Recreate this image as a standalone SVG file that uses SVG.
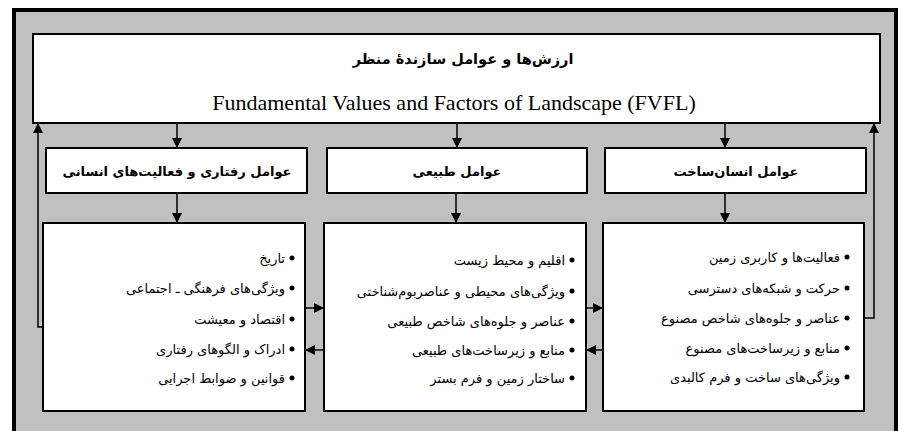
<svg xmlns="http://www.w3.org/2000/svg" width="902" height="431" viewBox="0 0 902 431">
<defs>
<style>
.box{fill:#ffffff;stroke:#000;stroke-width:2}
.ln{fill:none;stroke:#000;stroke-width:1.5}
.fa{font-family:"DejaVu Sans","Noto Sans",sans-serif;fill:#000}
.ttl{font-size:14.5px;font-weight:bold;text-anchor:middle}
.hd{font-size:13px;font-weight:bold;text-anchor:middle}
.it{font-size:13px;direction:rtl;text-anchor:start}
.en{font-family:"Liberation Serif","Times New Roman",serif;font-size:22px;text-anchor:middle;fill:#000}
.bul{fill:#000}
</style>
<marker id="ah" viewBox="0 0 10 10" refX="10" refY="5" markerWidth="10" markerHeight="10" markerUnits="userSpaceOnUse" orient="auto">
<path d="M0,0 L10,5 L0,10 z" fill="#000"/>
</marker>
</defs>
<rect x="0" y="0" width="902" height="431" fill="#ffffff"/>
<rect x="14" y="10" width="882" height="440" fill="#c0c0c0" stroke="#000" stroke-width="4"/>

<g id="connectors">
<line class="ln" x1="177" y1="124" x2="177" y2="148" marker-end="url(#ah)"/>
<line class="ln" x1="457" y1="124" x2="457" y2="148" marker-end="url(#ah)"/>
<line class="ln" x1="725" y1="124" x2="725" y2="148" marker-end="url(#ah)"/>
<line class="ln" x1="177" y1="193" x2="177" y2="223" marker-end="url(#ah)"/>
<line class="ln" x1="456" y1="193" x2="456" y2="223" marker-end="url(#ah)"/>
<line class="ln" x1="725" y1="193" x2="725" y2="223" marker-end="url(#ah)"/>
<line class="ln" x1="305" y1="308" x2="324" y2="308" marker-end="url(#ah)"/>
<line class="ln" x1="586" y1="308" x2="603" y2="308" marker-end="url(#ah)"/>
<line class="ln" x1="324" y1="350" x2="305" y2="350" marker-end="url(#ah)"/>
<line class="ln" x1="603" y1="350" x2="586" y2="350" marker-end="url(#ah)"/>
<polyline class="ln" points="43,327 38,327 38,123" marker-end="url(#ah)"/>
<polyline class="ln" points="864,318 874,318 874,123" marker-end="url(#ah)"/>
</g>

<g id="top">
<rect class="box" x="33" y="34" width="847" height="89"/>
<text class="fa ttl" x="463" y="64">ارزش&#x200C;ها و عوامل سازندهٔ منظر</text>
<text class="en" x="454" y="110">Fundamental Values and Factors of Landscape (FVFL)</text>
</g>

<g id="h-behavior">
<rect class="box" x="46" y="148" width="261" height="45"/>
<text class="fa hd" x="177" y="176">عوامل رفتاری و فعالیت&#x200C;های انسانی</text>
</g>
<g id="h-natural">
<rect class="box" x="327" y="148" width="260" height="45"/>
<text class="fa hd" x="457" y="176">عوامل طبیعی</text>
</g>
<g id="h-manmade">
<rect class="box" x="605" y="148" width="261" height="45"/>
<text class="fa hd" x="736" y="176">عوامل انسان&#x200C;ساخت</text>
</g>

<g id="l-behavior">
<rect class="box" x="43" y="223" width="262" height="188"/>
<circle class="bul" cx="292" cy="258" r="2.5"/>
<circle class="bul" cx="292" cy="288" r="2.5"/>
<circle class="bul" cx="292" cy="319" r="2.5"/>
<circle class="bul" cx="292" cy="349" r="2.5"/>
<circle class="bul" cx="292" cy="378" r="2.5"/>
<text class="fa it" x="285" y="263">تاریخ</text>
<text class="fa it" x="285" y="293">ویژگی&#x200C;های فرهنگی ـ اجتماعی</text>
<text class="fa it" x="285" y="324">اقتصاد و معیشت</text>
<text class="fa it" x="285" y="354">ادراک و الگوهای رفتاری</text>
<text class="fa it" x="285" y="383">قوانین و ضوابط اجرایی</text>
</g>

<g id="l-natural">
<rect class="box" x="324" y="223" width="262" height="188"/>
<circle class="bul" cx="572" cy="260" r="2.5"/>
<circle class="bul" cx="572" cy="291" r="2.5"/>
<circle class="bul" cx="572" cy="321" r="2.5"/>
<circle class="bul" cx="572" cy="350" r="2.5"/>
<circle class="bul" cx="572" cy="378" r="2.5"/>
<text class="fa it" x="565" y="265">اقلیم و محیط زیست</text>
<text class="fa it" x="565" y="296">ویژگی&#x200C;های محیطی و عناصربوم&#x200C;شناختی</text>
<text class="fa it" x="565" y="326">عناصر و جلوه&#x200C;های شاخص طبیعی</text>
<text class="fa it" x="565" y="355">منابع و زیرساخت&#x200C;های طبیعی</text>
<text class="fa it" x="565" y="383">ساختار زمین و فرم بستر</text>
</g>

<g id="l-manmade">
<rect class="box" x="603" y="223" width="261" height="188"/>
<circle class="bul" cx="847" cy="257" r="2.5"/>
<circle class="bul" cx="847" cy="288" r="2.5"/>
<circle class="bul" cx="847" cy="318" r="2.5"/>
<circle class="bul" cx="847" cy="348" r="2.5"/>
<circle class="bul" cx="847" cy="377" r="2.5"/>
<text class="fa it" x="840" y="262">فعالیت&#x200C;ها و کاربری زمین</text>
<text class="fa it" x="840" y="293">حرکت و شبکه&#x200C;های دسترسی</text>
<text class="fa it" x="840" y="323">عناصر و جلوه&#x200C;های شاخص مصنوع</text>
<text class="fa it" x="840" y="353">منابع و زیرساخت&#x200C;های مصنوع</text>
<text class="fa it" x="840" y="382">ویژگی&#x200C;های ساخت و فرم کالبدی</text>
</g>
</svg>
